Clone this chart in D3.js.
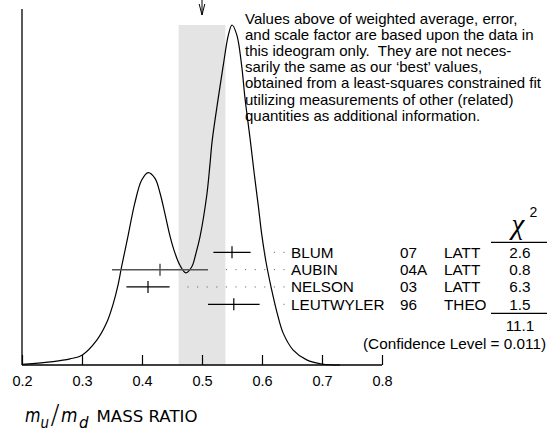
<!DOCTYPE html>
<html>
<head>
<meta charset="utf-8">
<script src="https://cdn.jsdelivr.net/npm/d3@7"></script>
<style>
  html, body { margin: 0; padding: 0; background: #fff; }
  svg { display: block; }
</style>
</head>
<body>
<svg id="chart" width="554" height="431"></svg>
<script>
// ---- data ----
const authors   = ["BLUM", "AUBIN", "NELSON", "LEUTWYLER"];
const years     = ["07", "04A", "03", "96"];
const techs     = ["LATT", "LATT", "LATT", "THEO"];
const values    = [0.550, 0.43, 0.410, 0.553];
const errors    = [0.031, 0.08, 0.036, 0.043];
const chi2      = ["2.6", "0.8", "6.3", "1.5"];
const chi2Total = "11.1";
const confLevel = "0.011";
const average   = 0.500;
const avgError  = 0.039;
const tickValues = [0.2, 0.3, 0.4, 0.5, 0.6, 0.7, 0.8];
const tickLabels = ["0.2", "0.3", "0.4", "0.5", "0.6", "0.7", "0.8"];
// ideogram curve (x value, relative height)
const curveX = [0.20, 0.252, 0.28, 0.30, 0.325, 0.341, 0.352, 0.36, 0.366, 0.377, 0.388, 0.3995, 0.4105, 0.4217, 0.43, 0.438, 0.447, 0.455, 0.463, 0.473, 0.483, 0.49, 0.497, 0.508, 0.513, 0.517, 0.527, 0.5355, 0.544, 0.550, 0.558, 0.566, 0.5717, 0.58, 0.587, 0.594, 0.5995, 0.607, 0.616, 0.6245, 0.6355, 0.652, 0.6745, 0.70, 0.73];
const curveY = [0.002, 0.010, 0.018, 0.029, 0.074, 0.124, 0.180, 0.235, 0.289, 0.382, 0.476, 0.544, 0.566, 0.549, 0.506, 0.447, 0.377, 0.329, 0.294, 0.271, 0.289, 0.329, 0.380, 0.500, 0.585, 0.660, 0.784, 0.882, 0.971, 1.000, 0.971, 0.882, 0.784, 0.668, 0.564, 0.466, 0.385, 0.300, 0.222, 0.158, 0.093, 0.044, 0.015, 0.003, 0.000];
const textLines = [
  "Values above of weighted average, error,",
  "and scale factor are based upon the data in",
  "this ideogram only.  They are not neces-",
  "sarily the same as our \u2018best\u2019 values,",
  "obtained from a least-squares constrained fit",
  "utilizing measurements of other (related)",
  "quantities as additional information."
];

// ---- layout ----
const svg = d3.select("#chart");
const x = d3.scaleLinear().domain([0.2, 0.8]).range([22, 382]);
const y = d3.scaleLinear().domain([0, 1]).range([365, 25]);
const row = d3.scalePoint().domain(authors).range([252.3, 304.3]);
const SANS = "'Liberation Sans', Arial, Helvetica, sans-serif";

// shaded band
svg.append("rect")
  .attr("x", x(average - avgError))
  .attr("width", x(average + avgError) - x(average - avgError))
  .attr("y", y(1)).attr("height", y(0) - y(1))
  .attr("fill", "#e4e4e4");

// arrow at average
const ax = x(average);
svg.append("line").attr("x1", ax).attr("x2", ax).attr("y1", 0).attr("y2", 15)
  .attr("stroke", "#000").attr("stroke-width", 1);
svg.append("path").attr("d", `M${ax - 2.8},4 L${ax},15 L${ax + 2.8},4`)
  .attr("fill", "none").attr("stroke", "#000").attr("stroke-width", 1);

// axes
const axis = d3.axisBottom(x).tickValues(tickValues).tickSize(-10).tickPadding(0)
  .tickFormat((d, i) => tickLabels[i]);
const gx = svg.append("g").attr("transform", "translate(0,365)").call(axis);
gx.select(".domain").remove();
gx.selectAll(".tick line").attr("stroke", "#000").attr("stroke-width", 1.2);
gx.selectAll(".tick text").attr("y", 21).attr("dy", 0)
  .attr("font-family", SANS).attr("font-size", 14.5).attr("fill", "#000");
svg.append("line").attr("x1", 22).attr("x2", 382).attr("y1", 365).attr("y2", 365)
  .attr("stroke", "#000").attr("stroke-width", 1.3);
svg.append("line").attr("x1", 22).attr("x2", 22).attr("y1", 9).attr("y2", 365)
  .attr("stroke", "#000").attr("stroke-width", 1.3);

// ideogram curve
const pts = curveX.map((v, i) => [v, curveY[i]]);
svg.append("path")
  .attr("d", d3.line().x(d => x(d[0])).y(d => y(d[1])).curve(d3.curveCatmullRom.alpha(0.5))(pts))
  .attr("fill", "none").attr("stroke", "#000").attr("stroke-width", 1.2);

// measurements
authors.forEach((a, i) => {
  const yy = row(a);
  const lo = values[i] - errors[i], hi = values[i] + errors[i];
  const col = a === "AUBIN" ? "#555" : "#000";
  const sw = a === "AUBIN" ? 1.5 : 1.2;
  svg.append("line").attr("x1", x(lo)).attr("x2", x(hi)).attr("y1", yy).attr("y2", yy)
    .attr("stroke", col).attr("stroke-width", sw);
  svg.append("line").attr("x1", x(values[i])).attr("x2", x(values[i]))
    .attr("y1", yy - 6).attr("y2", yy + 6).attr("stroke", col).attr("stroke-width", sw);
  // dotted leader aligned from the label side
  const endX = 284, step = 9.6;
  const startX = x(hi) + 12;
  for (let dx = endX; dx >= startX; dx -= step) {
    svg.append("rect").attr("x", dx - 0.5).attr("y", yy - 0.5).attr("width", 1).attr("height", 1)
      .attr("fill", "#555");
  }
  const t = svg.append("g").attr("font-family", SANS).attr("font-size", 15.3).attr("fill", "#000");
  t.append("text").attr("x", 291).attr("y", yy + 5.4).text(a);
  t.append("text").attr("x", 400).attr("y", yy + 5.4).text(years[i]);
  t.append("text").attr("x", 444).attr("y", yy + 5.4).text(techs[i]);
  t.append("text").attr("x", 520).attr("y", yy + 5.4).attr("text-anchor", "middle").text(chi2[i]);
});

// chi2 header and totals
svg.append("text").attr("x", 518).attr("y", 234).attr("text-anchor", "middle")
  .attr("font-family", "'Liberation Serif', 'Times New Roman', serif").attr("font-size", 29)
  .attr("font-style", "italic")
  .text("\u03C7");
svg.append("text").attr("x", 529.5).attr("y", 217)
  .attr("font-family", SANS).attr("font-size", 14).text("2");
svg.append("line").attr("x1", 491).attr("x2", 547).attr("y1", 242.3).attr("y2", 242.3)
  .attr("stroke", "#000").attr("stroke-width", 1.2);
svg.append("line").attr("x1", 491).attr("x2", 547).attr("y1", 313.3).attr("y2", 313.3)
  .attr("stroke", "#000").attr("stroke-width", 1.2);
svg.append("text").attr("x", 520).attr("y", 330.5).attr("text-anchor", "middle")
  .attr("font-family", SANS).attr("font-size", 15.3).text(chi2Total);
svg.append("text").attr("x", 546).attr("y", 348.8).attr("text-anchor", "end")
  .attr("font-family", SANS).attr("font-size", 15.3).text(`(Confidence Level = ${confLevel})`);

// explanatory text
const tb = svg.append("text").attr("font-family", SANS).attr("font-size", 15)
  .attr("fill", "#000").style("white-space", "pre");
textLines.forEach((l, i) => {
  tb.append("tspan").attr("x", 245).attr("y", 24 + i * 16.1).text(l);
});

// axis title (one text element with positioned pieces)
const DV = "'DejaVu Sans', Verdana, sans-serif";
const at = svg.append("text").attr("font-family", DV).attr("fill", "#000");
at.append("tspan").attr("x", 25).attr("y", 421.5).attr("font-size", 20).attr("font-style", "italic")
  .attr("textLength", 15.5).attr("lengthAdjust", "spacingAndGlyphs").text("m");
at.append("tspan").attr("x", 40.5).attr("y", 428).attr("font-size", 15).attr("font-style", "italic")
  .attr("textLength", 8.5).attr("lengthAdjust", "spacingAndGlyphs").text("u");
at.append("tspan").attr("x", 50.5).attr("y", 424).attr("font-size", 27).attr("font-weight", "200").text("/");
at.append("tspan").attr("x", 61).attr("y", 421.5).attr("font-size", 20).attr("font-style", "italic")
  .attr("textLength", 16.5).attr("lengthAdjust", "spacingAndGlyphs").text("m");
at.append("tspan").attr("x", 79).attr("y", 428).attr("font-size", 15).attr("font-style", "italic")
  .attr("textLength", 9.5).attr("lengthAdjust", "spacingAndGlyphs").text("d");
at.append("tspan").attr("x", 96.5).attr("y", 421.5).attr("font-size", 16.6).text("MASS RATIO");
</script>
</body>
</html>
